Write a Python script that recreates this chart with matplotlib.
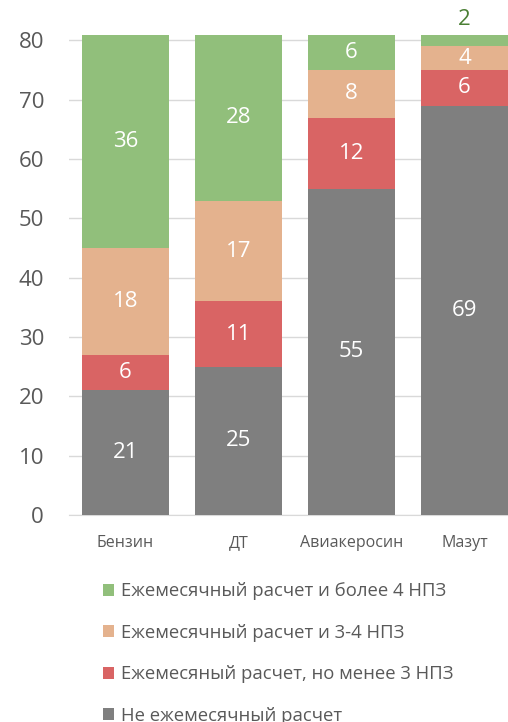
import matplotlib
matplotlib.use("Agg")
import matplotlib.pyplot as plt
import numpy as np

plt.rcParams['font.family'] = ['Open Sans', 'DejaVu Sans']

categories = ['Бензин', 'ДТ', 'Авиакеросин', 'Мазут']
series_names = ['Не ежемесячный расчет',
                'Ежемесяный расчет, но менее 3 НПЗ',
                'Ежемесячный расчет и 3-4 НПЗ',
                'Ежемесячный расчет и более 4 НПЗ']
not_monthly = [21, 25, 55, 69]
monthly_less3 = [6, 11, 12, 6]
monthly_3_4 = [18, 17, 8, 4]
monthly_more4 = [36, 28, 6, 2]
yticks = [0, 10, 20, 30, 40, 50, 60, 70, 80]

colors = ['#7f7f7f', '#d96464', '#e4b28e', '#91bf7b']
text_gray = '#595959'

fig = plt.figure(figsize=(5.08, 7.22), dpi=100)
ax = fig.add_axes([69 / 508, 207 / 722, 452 / 508, (515 - 34.5) / 722])

x = np.arange(len(categories))
bottom = np.zeros(len(categories))
bars = []
for vals, col in zip([not_monthly, monthly_less3, monthly_3_4, monthly_more4], colors):
    b = ax.bar(x, vals, width=0.77, bottom=bottom, color=col, zorder=3)
    bars.append(b)
    for xi, v, bt in zip(x, vals, bottom):
        if v >= 4:
            ax.text(xi, bt + v / 2, str(v), ha='center', va='center',
                    color='white', fontsize=16, zorder=4)
        else:
            ax.annotate(str(v), (xi, bt + v), xytext=(0, 3), textcoords='offset points',
                        ha='center', va='bottom', color='#4a7f34', fontsize=16,
                        annotation_clip=False)
    bottom = bottom + np.array(vals)

ax.set_xlim(-0.5, len(categories) - 0.5)
ax.set_ylim(0, 81)
ax.set_yticks(yticks)
ax.set_xticks(x)
ax.set_xticklabels(categories, fontsize=11.5, color=text_gray)
ax.tick_params(axis='y', labelsize=16, colors=text_gray, length=0, pad=18)
ax.tick_params(axis='x', length=0, pad=14.5)
ax.grid(axis='y', color='#d9d9d9', linewidth=1, zorder=0)
for s in ['top', 'right', 'left']:
    ax.spines[s].set_visible(False)
ax.spines['bottom'].set_color('#d9d9d9')

handles = bars[::-1]
labels = series_names[::-1]
fig.legend(handles, labels, loc='upper left', bbox_to_anchor=(96 / 508, 1 - 575 / 722),
           frameon=False, fontsize=13.3, labelcolor=text_gray, handlelength=0.6,
           handleheight=0.6, handletextpad=0.35, labelspacing=1.27, borderaxespad=0)

fig.savefig('out.png', dpi=100)
